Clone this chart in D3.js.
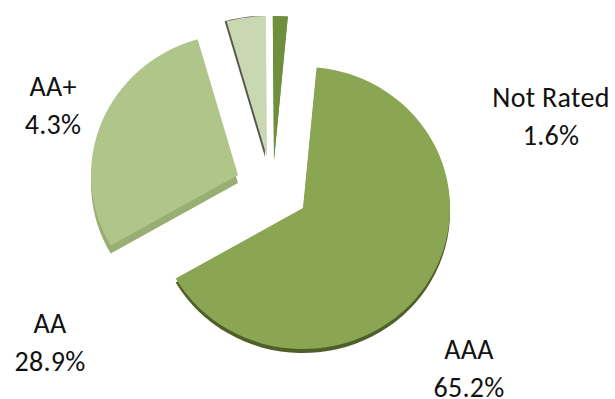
<!DOCTYPE html>
<html lang="en">
<head>
  <meta charset="UTF-8">
  <title>Rating pie</title>
  <script src="https://d3js.org/d3.v7.min.js"></script>
  <style>
    html, body { margin: 0; background: #fff; }
    svg { display: block; }
    text { font-family: Carlito, Lato, "Open Sans", sans-serif; font-size: 28px; letter-spacing: 0.3px; fill: #111; text-anchor: middle; }
  </style>
</head>
<body>
<div id="chart"></div>
<script>
  // values, in clockwise order
  var categories = ["AAA", "AA", "AA+", "Not Rated"];
  var shares = [65.2, 28.9, 4.3, 1.6];
  var shareLabels = ["65.2%", "28.9%", "4.3%", "1.6%"];
  var topColors = ["#8ba652", "#b0c589", "#c9d7b3", "#6f8f3e"];
  var sideColors = ["#4f5f2c", "#98ae72", "#55584a", "#6f8f3e"];

  var svg = d3.select("#chart").append("svg")
    .attr("width", 615)
    .attr("height", 399);

  var defs = svg.append("defs");
  defs.append("filter").attr("id", "soft")
    .append("feGaussianBlur").attr("stdDeviation", 0.5);

  var start = 5.3 * Math.PI / 180;
  var pie = d3.pie().sort(null).startAngle(start).endAngle(start + 2 * Math.PI);
  var slices = pie(shares);

  var radius = d3.scaleOrdinal().domain(categories).range([147, 147, 147, 150]);
  var arc = d3.arc().innerRadius(0);

  // exploded apex of each slice, and how far its rim drops
  var apexX = d3.scaleOrdinal().domain(categories).range([303, 238, 267, 274]);
  var apexY = d3.scaleOrdinal().domain(categories).range([208, 175, 157, 160]);
  var depth = d3.scaleOrdinal().domain(categories).range([4, 8, 0, 0]);
  var sideDx = d3.scaleOrdinal().domain(categories).range([0, 0, -2, 0]);
  var tilt = 0.96;

  var g = svg.append("g").attr("filter", "url(#soft)");

  slices.forEach(function(d, i) {
    var name = categories[i];
    var path = arc.outerRadius(radius(name))(d);
    var x = apexX(name), y = apexY(name);
    g.append("path")
      .attr("d", path)
      .attr("transform", "translate(" + (x + sideDx(name)) + "," + (y + depth(name)) + ") scale(1," + tilt + ")")
      .attr("fill", sideColors[i]);
    g.append("path")
      .attr("d", path)
      .attr("transform", "translate(" + x + "," + y + ") scale(1," + tilt + ")")
      .attr("fill", topColors[i]);
  });

  // label anchors, one per category
  var labelX = d3.scaleOrdinal().domain(categories).range([469, 50, 53, 551]);
  var labelY = d3.scaleOrdinal().domain(categories).range([359, 333, 96, 107]);

  categories.forEach(function(name, i) {
    var t = svg.append("text").attr("x", labelX(name)).attr("y", labelY(name));
    t.append("tspan").attr("x", labelX(name)).text(name);
    t.append("tspan").attr("x", labelX(name)).attr("dy", 38).text(shareLabels[i]);
  });
</script>
</body>
</html>
